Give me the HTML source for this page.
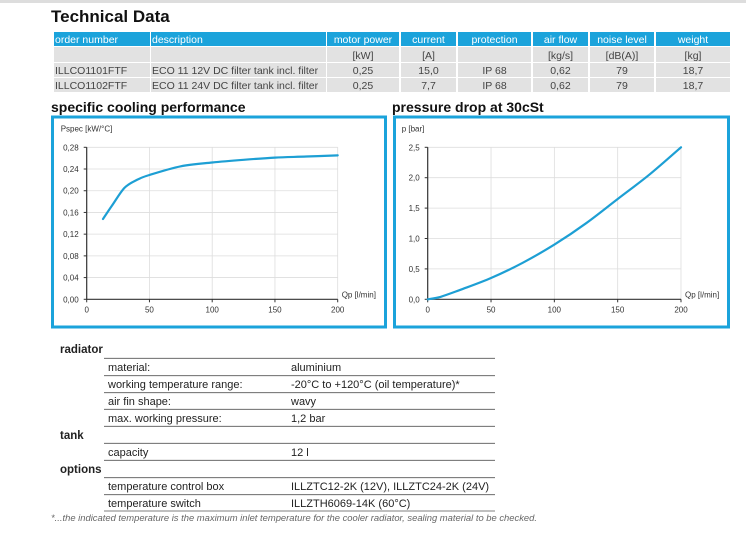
<!DOCTYPE html>
<html><head><meta charset="utf-8"><style>
body{margin:0;width:746px;height:535px;background:#fff;overflow:hidden;font-family:"Liberation Sans",sans-serif}
svg{display:block}
</style></head><body>
<svg width="746" height="535" viewBox="0 0 746 535">
<rect x="0" y="0" width="746" height="3" fill="#ddd"/>
<text x="51" y="22" font-size="17" font-weight="bold" fill="#111">Technical Data</text>
<g id="tbl" font-size="10.5"></g>
<text x="51" y="112" font-size="14" font-weight="bold" fill="#111">specific cooling performance</text>
<text x="392" y="112" font-size="14" font-weight="bold" fill="#111">pressure drop at 30cSt</text>
<rect x="52.5" y="117" width="333" height="210" fill="none" stroke="#1ba3db" stroke-width="3"/>
<rect x="394.5" y="117" width="334" height="210" fill="none" stroke="#1ba3db" stroke-width="3"/>
<g id="c1" font-size="8" fill="#333"></g>
<g id="c2" font-size="8" fill="#333"></g>
<g id="specs" font-size="11" fill="#222"></g>
<text x="51" y="521" font-size="9.5" font-style="italic" fill="#666" textLength="486" lengthAdjust="spacingAndGlyphs">*...the indicated temperature is the maximum inlet temperature for the cooler radiator, sealing material to be checked.</text>
</svg>
<script>
const coolX=[13,20,30,40,50,75,100,125,150,175,200];
const coolY=[0.148,0.172,0.205,0.220,0.229,0.245,0.252,0.257,0.261,0.263,0.265];
const coolTicksY=["0,00","0,04","0,08","0,12","0,16","0,20","0,24","0,28"];
const presX=[0,10,25,50,75,100,125,150,175,200];
const presY=[0,0.04,0.15,0.35,0.60,0.90,1.25,1.65,2.05,2.5];
const presTicksY=["0,0","0,5","1,0","1,5","2,0","2,5"];
const xTicks=[0,50,100,150,200];
const NS="http://www.w3.org/2000/svg";
function mk(p,t,a,txt){const e=document.createElementNS(NS,t);for(const k in a)e.setAttribute(k,a[k]);if(txt!==undefined)e.textContent=txt;p.appendChild(e);return e;}

const tbl=document.getElementById('tbl');
const cols=[[54,150,'start'],[151,326,'start'],[327,399,'middle'],[401,456,'middle'],[458,531,'middle'],[533,588,'middle'],[590,654,'middle'],[656,730,'middle']];
const hdr=["order number","description","motor power","current","protection","air flow","noise level","weight"];
const units=["","","[kW]","[A]","","[kg/s]","[dB(A)]","[kg]"];
const r1=["ILLCO1101FTF","ECO 11 12V DC filter tank incl. filter","0,25","15,0","IP 68","0,62","79","18,7"];
const r2=["ILLCO1102FTF","ECO 11 24V DC filter tank incl. filter","0,25","7,7","IP 68","0,62","79","18,7"];
const rows=[[hdr,32,14,'#1ba3db','#fff'],[units,47,15,'#e2e2e2','#444'],[r1,63,14,'#e2e2e2','#444'],[r2,78,14,'#e2e2e2','#444']];
rows.forEach((r,ri)=>{cols.forEach((c,ci)=>{
 const rc=mk(tbl,'rect',{x:c[0],y:r[1],width:c[1]-c[0],height:r[2],fill:r[3]});
 
 
 const tx=c[2]=='start'?c[0]+1:(c[0]+c[1])/2;
 const t=mk(tbl,'text',{x:tx,y:r[1]+r[2]-3,'text-anchor':c[2],fill:r[4]},r[0][ci]);
 
 
 const maxw=(c[1]-c[0])-4;
 if(t.getComputedTextLength()>maxw){t.setAttribute('textLength',maxw);t.setAttribute('lengthAdjust','spacingAndGlyphs');}
});});

function smooth(pts){let d='M'+pts[0][0].toFixed(1)+','+pts[0][1].toFixed(1);
 for(let i=0;i<pts.length-1;i++){const p0=pts[i-1]||pts[i],p1=pts[i],p2=pts[i+1],p3=pts[i+2]||p2;
  const c1=[p1[0]+(p2[0]-p0[0])/6,p1[1]+(p2[1]-p0[1])/6],c2=[p2[0]-(p3[0]-p1[0])/6,p2[1]-(p3[1]-p1[1])/6];
  d+=`C${c1[0].toFixed(1)},${c1[1].toFixed(1)} ${c2[0].toFixed(1)},${c2[1].toFixed(1)} ${p2[0].toFixed(1)},${p2[1].toFixed(1)}`;}
 return d;}
function chart(g,x0,x1,y0,y1,ymax,ticksY,xs,ys,ylabel){
 const sx=v=>x0+(v/200)*(x1-x0), sy=v=>y0-(v/ymax)*(y0-y1);
 const n=ticksY.length;
 ticksY.forEach((lab,i)=>{const yv=ymax*i/(n-1),y=sy(yv);
  if(i>0){const l=mk(g,'line',{x1:x0,x2:x1,y1:y,y2:y,stroke:'#ddd','stroke-width':0.8});}
  const t=mk(g,'text',{x:x0-8,y:y+3,'text-anchor':'end'},lab);
  mk(g,'line',{x1:x0-3,x2:x0,y1:y,y2:y,stroke:'#333'});});
 xTicks.forEach(v=>{const x=sx(v);
  if(v>0){const l=mk(g,'line',{x1:x,x2:x,y1:y1,y2:y0,stroke:'#ddd','stroke-width':0.8});}
  const t=mk(g,'text',{x:x,y:y0+13,'text-anchor':'middle'},String(v));
  mk(g,'line',{x1:x,x2:x,y1:y0,y2:y0+3,stroke:'#333'});});
 const ax=mk(g,'path',{d:`M${x0},${y1}V${y0}H${x1}`,fill:'none',stroke:'#333','stroke-width':1.2});
 
 const yl=mk(g,'text',{x:x0-26,y:y1-16},ylabel);
 const xl=mk(g,'text',{x:x1+4,y:y0-2},'Qp [l/min]');
 const pts=xs.map((v,i)=>[sx(v),sy(ys[i])]);
 const p=mk(g,'path',{d:smooth(pts),fill:'none',stroke:'#1d9fd4','stroke-width':2.2,'stroke-linejoin':'round','stroke-linecap':'round'});
 
}
chart(document.getElementById('c1'),86.7,337.7,299.3,147.3,0.28,coolTicksY,coolX,coolY,'Pspec [kW/°C]');
chart(document.getElementById('c2'),427.7,681,299.3,147.3,2.5,presTicksY,presX,presY,'p [bar]');

const sp=document.getElementById('specs');
[["radiator",353],["tank",439],["options",473]].forEach(h=>{const t=mk(sp,'text',{x:60,y:h[1],'font-weight':'bold','font-size':11.5},h[0]);});
[358.3,375.7,392.7,409.3,426.3,443.3,460.3,477.7,494.7,511].forEach(y=>{const l=mk(sp,'line',{x1:104,x2:495,y1:y,y2:y,stroke:'#555','stroke-width':0.8});});
[["material:","aluminium",371],["working temperature range:","-20°C to +120°C (oil temperature)*",388],["air fin shape:","wavy",405],["max. working pressure:","1,2 bar",422],["capacity","12 l",456],["temperature control box","ILLZTC12-2K (12V), ILLZTC24-2K (24V)",490],["temperature switch","ILLZTH6069-14K (60°C)",507]].forEach(r=>{
 const a=mk(sp,'text',{x:108,y:r[2]},r[0]);
 const b=mk(sp,'text',{x:291,y:r[2]},r[1]);});
</script>
</body></html>
